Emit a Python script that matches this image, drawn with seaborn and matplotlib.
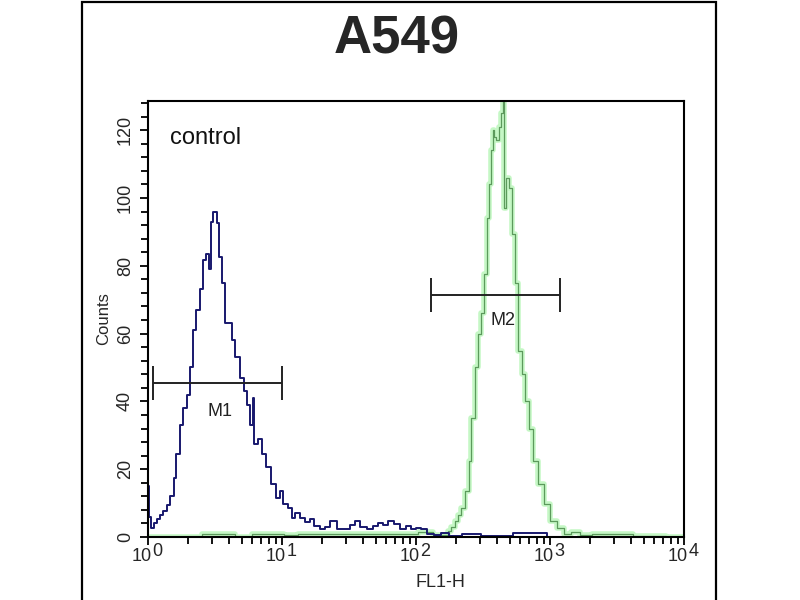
import numpy as np
import pandas as pd
import seaborn as sns
import matplotlib
matplotlib.use("Agg")
import matplotlib.pyplot as plt
from matplotlib.patches import Rectangle
from matplotlib.ticker import MultipleLocator, NullFormatter
import matplotlib.transforms as mtransforms

# control histogram (blue), FL1-H channel value -> counts
ctrl_fl1 = [1.00, 1.035, 1.07, 1.13, 1.19, 1.27, 1.34, 1.41, 1.51, 1.59, 1.67, 1.79,
            1.89, 1.99, 2.13, 2.24, 2.36, 2.53, 2.66, 2.80, 2.90, 3.00, 3.16, 3.33,
            3.45, 3.63, 3.89, 4.09, 4.31, 4.61, 5.03, 5.30, 5.58, 5.97, 6.08, 6.29,
            6.86, 7.21, 7.87, 8.57, 9.34, 10.0, 10.5, 11.5, 12.1, 12.9, 14.3, 15.6,
            16.7, 18.2, 20.2, 22.0, 24.0, 27.1, 30.5, 33.3, 36.3, 40.2, 45.4, 49.4,
            53.9, 58.7, 64.0, 72.1, 80.0, 87.1, 95.0, 103.5, 112.8, 127, 143.5, 164,
            186, 253, 357, 709, 1188, 10000]
ctrl_counts = [15, 6, 2.7, 4, 5.3, 6.5, 7.7, 9.5, 12, 17.5, 24.5, 33,
               38, 42, 50, 61, 67, 73, 81.6, 83.6, 79, 93, 96, 92.5,
               82.5, 75, 63, 63, 58, 53, 47, 43, 39, 33, 41, 27.5,
               29, 24.5, 20.5, 15.6, 11.6, 13.6, 9.7, 8.6, 5.6, 7, 5.7, 4.5,
               5.3, 3.3, 2.4, 3, 4.7, 2.4, 2.4, 3.5, 4.7, 3.0, 2.4, 3.2,
               4.2, 3.5, 4.7, 3.8, 2.4, 3.2, 2.4, 2.8, 2.4, 1, 0.5, 1.2,
               0.3, 1, 0.3, 1.2, 0, 0]

# stained sample histogram (green)
samp_fl1 = [1.00, 4.09, 4.86, 7.1, 9.3, 11.5, 14.9, 19.2, 32.2, 53.9, 90.2, 117,
            151, 170, 179, 189, 202, 213, 224, 240, 253, 266, 285, 300,
            316, 327, 345, 357, 369, 376, 389, 402, 424, 439, 446, 461,
            478, 503, 530, 567, 597, 629, 674, 709, 773, 842, 950, 1052,
            1188, 1340, 1538, 1824, 2280, 3055, 3630, 4700, 10000]
samp_counts = [0, 1, 0, 1, 1, 0.5, 1, 0.8, 1, 1, 1, 1.5,
               0.5, 0.5, 1.8, 3, 4.7, 6.5, 8.6, 13.6, 22.5, 35, 50, 60,
               66, 77.7, 94, 104, 114, 120, 118, 117, 121, 125, 131, 97,
               106, 103, 89.5, 75, 55, 48, 40, 32, 22.5, 15.6, 9.7, 4.7,
               2.7, 1, 1.5, 0.5, 1, 1, 1, 0.3, 0]

# gates
gate_names = ["M1", "M2"]
gate_lo = [1.09, 129]
gate_hi = [10.0, 1188]
gate_y = [45.5, 71.5]
gate_label_x = [3.45, 445]
gate_label_y = [37, 64]

sns.set_style("ticks")
plt.rcParams["font.family"] = ["Liberation Sans", "DejaVu Sans"]

fig = plt.figure(figsize=(8, 6), dpi=100)
ax = fig.add_axes([0.185, 0.105, 0.67, 0.7267])
ax.set_xscale("log")

ctrl = pd.DataFrame({"fl1": ctrl_fl1, "counts": ctrl_counts})
samp = pd.DataFrame({"fl1": samp_fl1, "counts": samp_counts})

# green with soft glow
sns.lineplot(data=samp, x="fl1", y="counts", ax=ax, estimator=None, sort=False,
             drawstyle="steps-mid", color="#8cf08c", lw=4.0, alpha=0.5)
sns.lineplot(data=samp, x="fl1", y="counts", ax=ax, estimator=None, sort=False,
             drawstyle="steps-mid", color="#5c9a5c", lw=0.9)
sns.lineplot(data=ctrl, x="fl1", y="counts", ax=ax, estimator=None, sort=False,
             drawstyle="steps-mid", color="#18186e", lw=1.4)

for name, lo, hi, y, lx, ly in zip(gate_names, gate_lo, gate_hi, gate_y,
                                   gate_label_x, gate_label_y):
    ax.hlines(y, lo, hi, color="#222222", lw=1.4)
    ax.vlines([lo, hi], y - 5, y + 5, color="#222222", lw=1.4)
    ax.text(lx, ly, name, ha="center", va="center", fontsize=13, color="#222222")

ax.text(0.041, 0.915, "control", transform=ax.transAxes, fontsize=17,
        ha="left", va="center", color="#111111")

ax.set_xlim(1, 10000)
ax.set_ylim(0, 128.6)
ax.yaxis.set_major_locator(MultipleLocator(20))
ax.yaxis.set_minor_locator(MultipleLocator(4))
ax.tick_params(axis="both", which="both", direction="out", color="black", width=1.3)
ax.tick_params(axis="both", which="major", length=6)
ax.tick_params(axis="both", which="minor", length=5)
ax.tick_params(axis="y", labelsize=13, labelrotation=90, pad=4)
for lab in ax.get_yticklabels():
    lab.set_va("center")

# x tick labels "10" with a full-size exponent
ax.xaxis.set_major_formatter(NullFormatter())
ax.xaxis.set_minor_formatter(NullFormatter())
trans = mtransforms.blended_transform_factory(ax.transData, ax.transAxes)
for e in range(5):
    ax.annotate("10", xy=(10 ** e, 0), xycoords=trans, xytext=(3, -8),
                textcoords="offset points", ha="right", va="top", fontsize=13)
    ax.annotate(str(e), xy=(10 ** e, 0), xycoords=trans, xytext=(3, -4),
                textcoords="offset points", ha="left", va="top", fontsize=13)

ax.set_xlabel("FL1-H", fontsize=13, labelpad=0)
ax.xaxis.set_label_coords(0.545, -0.085)
ax.set_ylabel("Counts", fontsize=12, labelpad=4)

for sp in ax.spines.values():
    sp.set_visible(True)
    sp.set_color("black")
    sp.set_linewidth(1.5)

fig.text(0.496, 0.935, "A549", fontsize=38, fontweight="bold", ha="center", va="center")

fig.add_artist(Rectangle((0.1025, -0.05), 0.7925, 1.0467, transform=fig.transFigure,
                         fill=False, lw=1.6, edgecolor="black"))

fig.savefig("out.png", dpi=100)
